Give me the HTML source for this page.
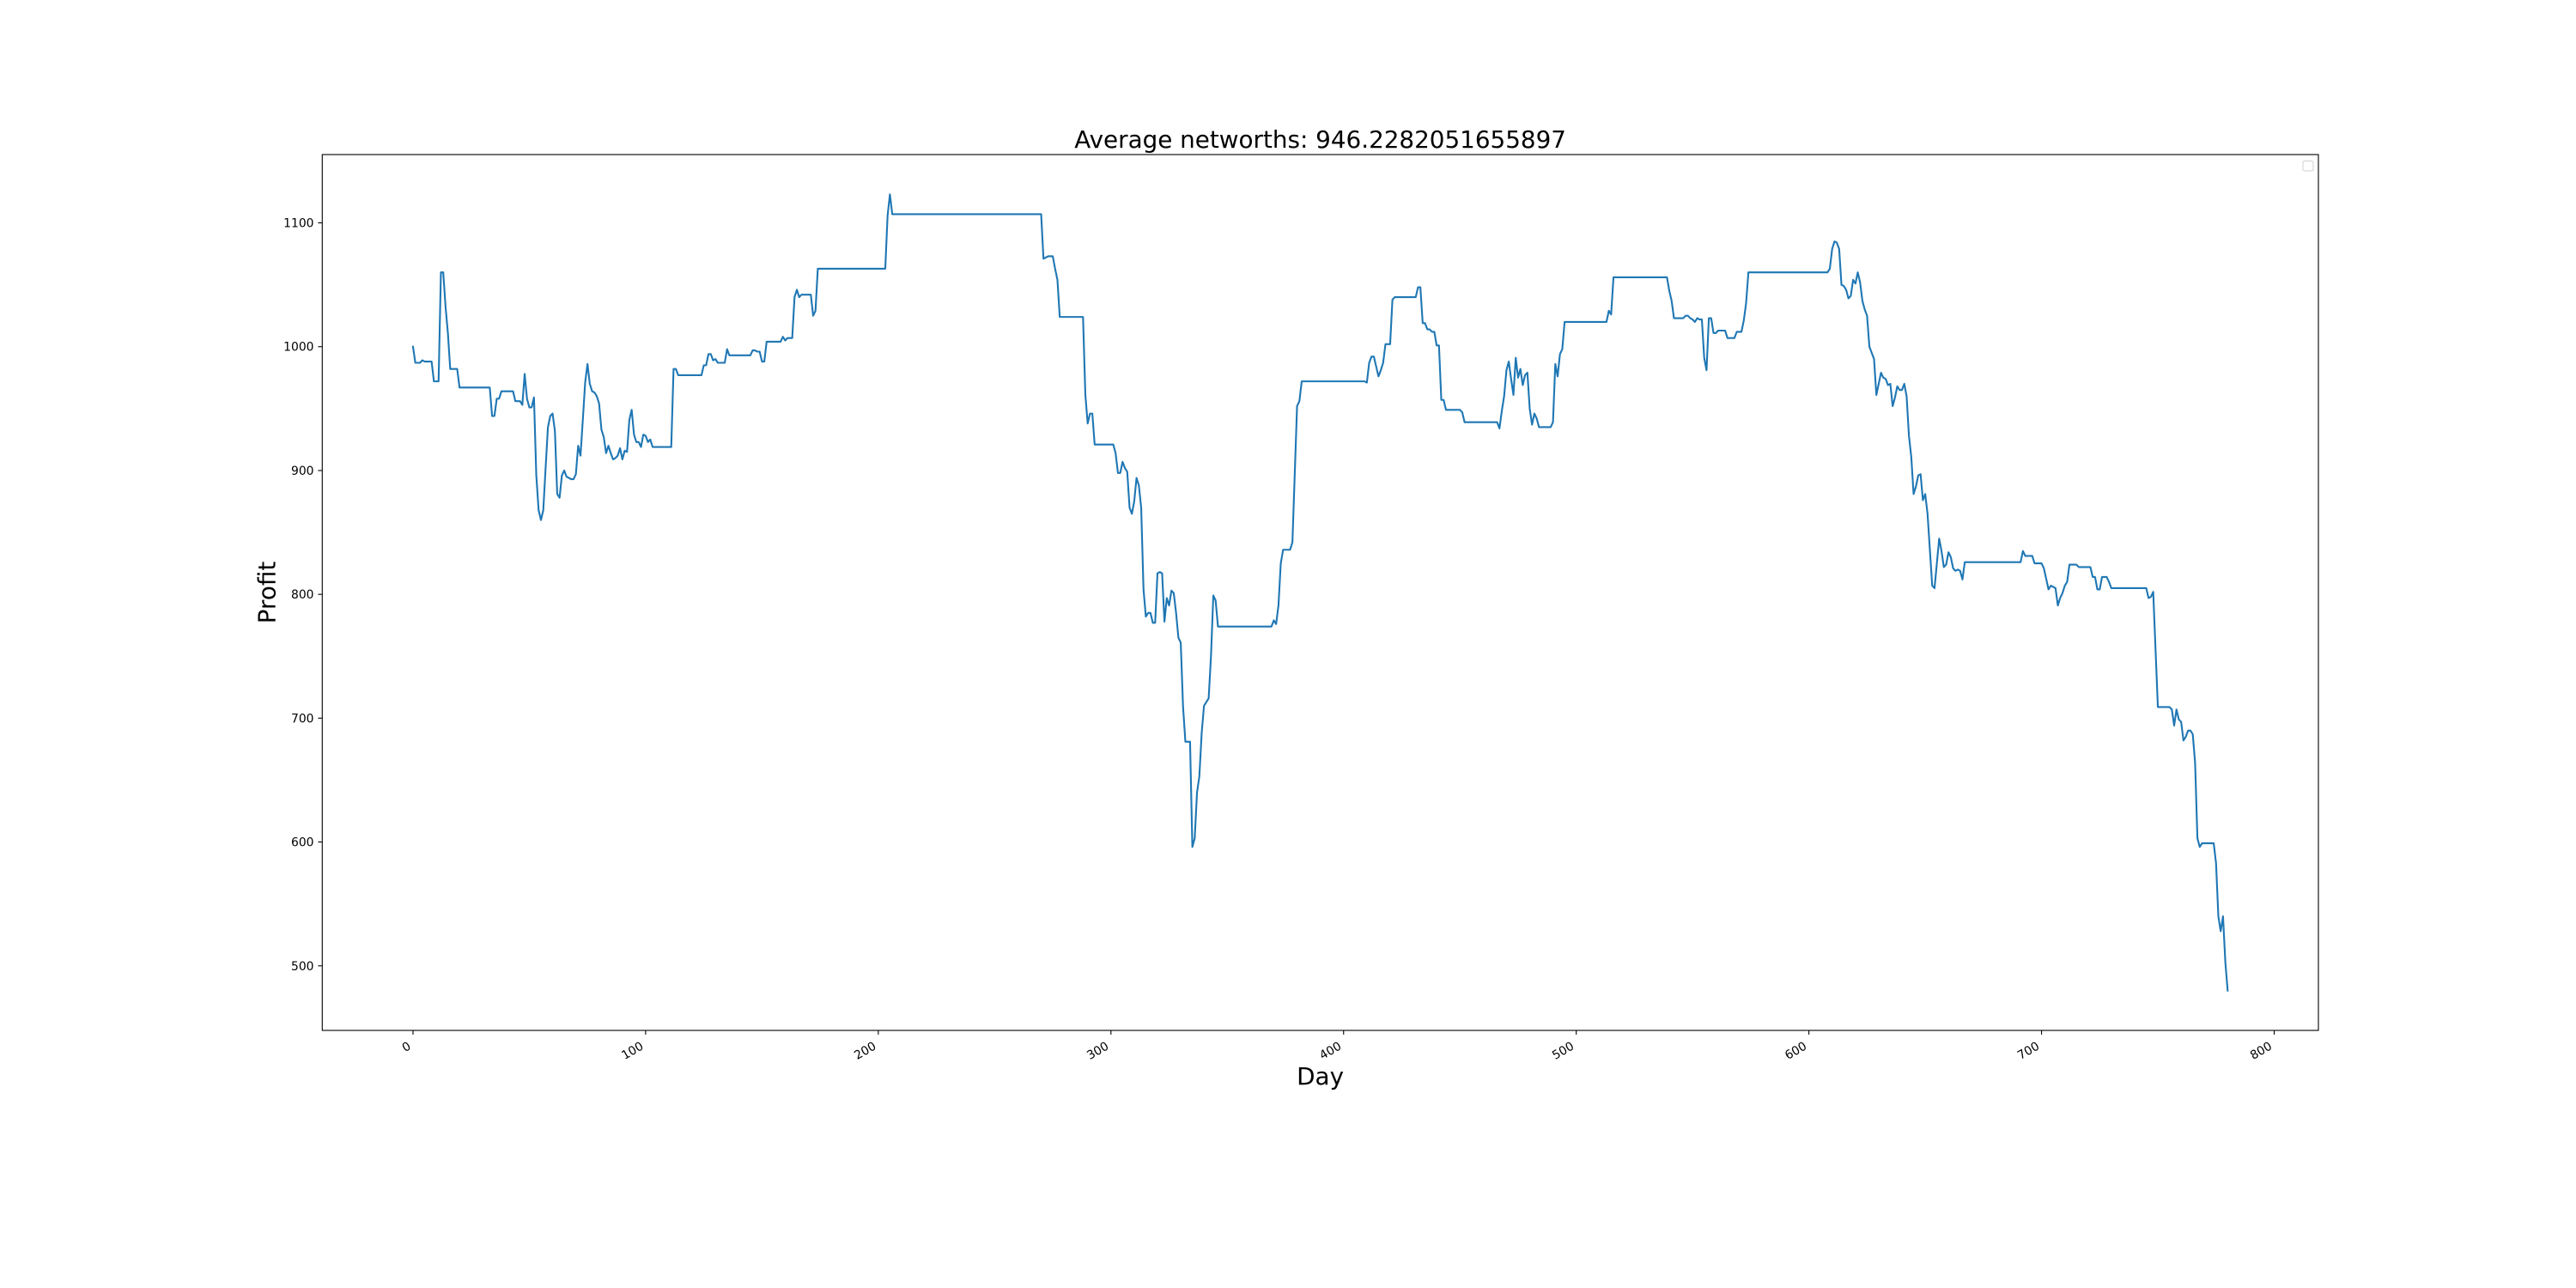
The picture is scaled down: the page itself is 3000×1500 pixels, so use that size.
<!DOCTYPE html>
<html>
<head>
<meta charset="utf-8">
<style>
  html, body { margin: 0; padding: 0; background: #ffffff; }
  svg { display: block; }
  text { font-family: "DejaVu Sans", "Liberation Sans", sans-serif; fill: #000; }
</style>
</head>
<body>
<svg id="chart" xmlns="http://www.w3.org/2000/svg" width="3000" height="1500" viewBox="0 0 3000 1500">
  <rect x="0" y="0" width="3000" height="1500" fill="#ffffff"/>
  <text x="1537.6" y="172" font-size="27.8" text-anchor="middle">Average networths: 946.2282051655897</text>
  <g id="plot"></g>
  <g id="xticks"></g>
  <g id="yticks"></g>
  <rect x="375.3" y="180" width="2324.7" height="1020" fill="none" stroke="#000" stroke-width="1.1"/>
  <rect x="2682" y="187.5" width="12" height="11.5" rx="2" fill="#fff" stroke="#d0d0d0" stroke-width="1"/>
  <text x="1537.6" y="1263" font-size="27.8" text-anchor="middle">Day</text>
  <text transform="translate(320.5,690) rotate(-90)" font-size="27.8" text-anchor="middle">Profit</text>
</svg>
<script>
const days = [0,1,3,4,5,8,9,11,12,13,14,15,16,19,20,33,34,35,36,37,38,43,44,46,47,48,49,50,51,52,53,54,55,56,57,58,59,60,61,62,63,64,65,66,67,68,69,70,71,72,
73,74,75,76,77,78,79,80,81,82,83,84,85,86,87,88,89,90,91,92,93,94,95,96,97,98,99,100,101,102,103,111,112,113,114,124,125,126,127,128,129,130,131,134,135,136,145,146,147,148,149,150,151,152,158,159,160,161,163,164,165,166,167,171,172,173,174,
203,204,205,206,270,271,273,275,276,277,278,288,289,290,291,292,293,301,302,303,304,305,306,307,308,309,310,311,312,313,314,315,316,317,318,319,320,321,322,323,324,325,326,327,328,329,330,331,332,334,335,336,337,338,339,340,342,343,344,345,346,369,370,371,372,373,374,377,378,379,380,381,382,409,
410,411,412,413,414,415,416,417,418,420,421,422,431,432,433,434,435,436,437,438,439,440,441,442,443,444,450,451,452,453,466,467,468,469,470,471,472,473,474,475,476,477,478,479,480,481,482,483,484,489,490,491,492,493,494,495,513,514,515,516,539,540,541,542,546,547,548,549,550,551,552,553,554,555,556,557,558,559,560,561,564,565,568,569,571,572,573,574,608,609,610,611,612,613,614,615,616,617,618,619,620,621,622,623,624,625,626,
628,629,630,631,632,633,634,635,636,637,638,639,640,641,642,643,644,645,646,647,648,649,650,651,653,654,656,657,658,659,660,661,662,663,664,665,666,667,691,692,693,696,697,700,701,703,704,706,707,708,709,710,711,712,715,716,721,722,723,724,725,726,728,729,730,745,746,747,748,750,755,756,757,758,759,760,761,762,763,764,765,766,767,768,769,774,775,776,777,778,779,780];
const profits = [1000,987,987,989,988,988,972,972,1060,1060,1032,1011,982,982,967,967,944,944,958,958,964,964,956,956,953,978,958,951,951,959,896,868,860,868,902,935,944,946,932,881,878,896,900,895,894,893,893,897,920,912,
941,971,986,970,964,963,960,954,933,927,914,920,914,909,910,912,918,909,916,915,941,949,929,923,923,919,929,928,923,925,919,919,982,982,977,977,985,985,994,994,989,990,987,987,998,993,993,997,997,996,996,988,988,1004,1004,1008,1005,1007,1007,1040,1046,1040,1042,1042,1025,1029,1063,
1063,1106,1123,1107,1107,1071,1073,1073,1063,1054,1024,1024,961,938,946,946,921,921,914,898,898,907,902,899,870,865,875,894,888,870,804,782,785,785,777,777,817,818,817,778,797,791,803,801,785,765,761,709,681,681,596,603,640,653,688,710,716,750,799,795,774,774,779,776,791,825,836,836,842,897,952,956,972,972,
971,987,992,992,984,976,981,987,1002,1002,1038,1040,1040,1048,1048,1019,1019,1014,1014,1012,1012,1001,1001,957,957,949,949,947,939,939,939,934,948,960,981,988,974,961,991,975,982,969,977,979,950,937,946,942,935,935,939,986,976,994,998,1020,1020,1029,1026,1056,1056,1045,1037,1023,1023,1025,1025,1023,1022,1020,1023,1022,1022,991,981,1023,1023,1011,1011,1013,1013,1007,1007,1012,1012,1021,1035,1060,1060,1063,1079,1085,1084,1079,1050,1049,1046,1039,1041,1054,1051,1060,1052,1037,1030,1025,1000,
990,961,970,979,975,974,969,970,952,959,968,965,965,970,960,928,911,881,887,896,897,876,881,865,807,805,845,835,822,824,834,830,821,819,820,819,812,826,826,835,831,831,825,825,821,804,807,805,791,797,801,807,810,824,824,822,822,814,814,804,804,814,814,810,805,805,797,798,802,709,709,707,694,707,699,697,682,685,690,690,687,664,603,596,599,599,583,540,528,540,503,480];
const xTickValues = [0,100,200,300,400,500,600,700,800];
const xTickLabels = ["0","100","200","300","400","500","600","700","800"];
const yTickValues = [500,600,700,800,900,1000,1100];
const yTickLabels = ["500","600","700","800","900","1000","1100"];

const NS = "http://www.w3.org/2000/svg";
const AX = { left: 375.3, right: 2700, top: 180, bottom: 1200 };
const dMin = Math.min(...days), dMax = Math.max(...days);
const pMin = Math.min(...profits), pMax = Math.max(...profits);
const xLo = dMin - 0.05 * (dMax - dMin), xHi = dMax + 0.05 * (dMax - dMin);
const yLo = pMin - 0.05 * (pMax - pMin), yHi = pMax + 0.05 * (pMax - pMin);
function xScale(d) { return AX.left + (d - xLo) / (xHi - xLo) * (AX.right - AX.left); }
function yScale(v) { return AX.bottom - (v - yLo) / (yHi - yLo) * (AX.bottom - AX.top); }

const plot = document.getElementById('plot');
const line = document.createElementNS(NS, 'polyline');


line.setAttribute('points', days.map((d, i) => xScale(d).toFixed(2) + ',' + yScale(profits[i]).toFixed(2)).join(' '));
line.setAttribute('fill', 'none');
line.setAttribute('stroke', '#1f77b4');
line.setAttribute('stroke-width', '2.1');
line.setAttribute('stroke-linejoin', 'round');
line.setAttribute('stroke-linecap', 'square');
plot.appendChild(line);

const xg = document.getElementById('xticks');
xTickValues.forEach((v, i) => {
  const x = xScale(v);
  const t = document.createElementNS(NS, 'line');
  
  
  t.setAttribute('x1', x); t.setAttribute('x2', x);
  t.setAttribute('y1', AX.bottom); t.setAttribute('y2', AX.bottom + 4.9);
  t.setAttribute('stroke', '#000'); t.setAttribute('stroke-width', '1.1');
  xg.appendChild(t);
  const lb = document.createElementNS(NS, 'text');
  
  
  lb.setAttribute('transform', 'translate(' + (x - 1.6) + ',1221) rotate(-30)');
  lb.setAttribute('text-anchor', 'end');
  lb.setAttribute('font-size', '13.9');
  lb.textContent = xTickLabels[i];
  xg.appendChild(lb);
});

const yg = document.getElementById('yticks');
yTickValues.forEach((v, i) => {
  const y = yScale(v);
  const t = document.createElementNS(NS, 'line');
  
  
  t.setAttribute('x1', AX.left - 4.9); t.setAttribute('x2', AX.left);
  t.setAttribute('y1', y); t.setAttribute('y2', y);
  t.setAttribute('stroke', '#000'); t.setAttribute('stroke-width', '1.1');
  yg.appendChild(t);
  const lb = document.createElementNS(NS, 'text');
  
  
  lb.setAttribute('x', AX.left - 9.8);
  lb.setAttribute('y', y + 5);
  lb.setAttribute('text-anchor', 'end');
  lb.setAttribute('font-size', '13.9');
  lb.textContent = yTickLabels[i];
  yg.appendChild(lb);
});
</script>
</body>
</html>
